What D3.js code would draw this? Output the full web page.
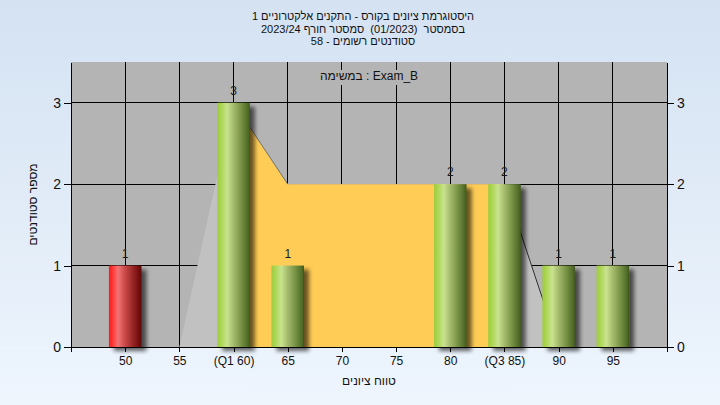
<!DOCTYPE html>
<html><head><meta charset="utf-8">
<script src="https://cdn.jsdelivr.net/npm/d3@7"></script>
<style>
html,body{margin:0;padding:0;}
body{width:720px;height:405px;overflow:hidden;}
svg{display:block;font-family:"Liberation Sans","DejaVu Sans",Arial,sans-serif;}
</style></head>
<body>
<svg id="chart" width="720" height="405"></svg>
<script>
// ---- data ----
const titleLines = [
  "היסטוגרמת ציונים בקורס - התקנים אלקטרוניים 1",
  "בסמסטר  (01/2023)  סמסטר חורף 2023/24",
  "סטודנטים רשומים - 58"
];
const subTitle = "במשימה : Exam_B";
const xTitle = "טווח ציונים";
const yTitle = "מספר סטודנטים";
const categories = [50, 55, 60, 65, 70, 75, 80, 85, 90, 95];
const tickLabels = ["50", "55", "(Q1 60)", "65", "70", "75", "80", "(Q3 85)", "90", "95"];
const counts = [1, 0, 3, 1, 0, 0, 2, 2, 1, 1];
const areaX = [55, 60, 65, 70, 75, 80, 85, 90];
const areaY = [0, 3, 2, 2, 2, 2, 2, 0];
const q1 = 60, q3 = 85;
const passMark = 55;
const xDomain = [45, 100];
const yDomain = [0, 3.5];
const yTicks = [0, 1, 2, 3];

// ---- layout ----
const svg = d3.select("#chart");
const L = 71, R = 667, T = 62, B = 347;
const x = d3.scaleLinear().domain(xDomain).range([L, R]);
const y = d3.scaleLinear().domain(yDomain).range([B, T]);
const barHalf = 1.5;

const defs = svg.append("defs");
const bgGrad = defs.append("linearGradient").attr("id", "bg").attr("x1", 0).attr("y1", 0).attr("x2", 0).attr("y2", 1);
bgGrad.append("stop").attr("offset", "0%").attr("stop-color", "#d4e2f2");
bgGrad.append("stop").attr("offset", "100%").attr("stop-color", "#eef5fd");

function cyl(id, stops) {
  const g = defs.append("linearGradient").attr("id", id).attr("x1", 0).attr("y1", 0).attr("x2", 1).attr("y2", 0);
  stops.forEach(s => g.append("stop").attr("offset", s[0]).attr("stop-color", s[1]));
}
cyl("gGreen", [["0%", "#9dcc3e"], ["12%", "#acd654"], ["30%", "#c9e38f"], ["50%", "#a4ba6c"], ["75%", "#748f42"], ["96%", "#4c6724"], ["100%", "#3a4f1a"]]);
cyl("gRed", [["0%", "#ff1a1a"], ["12%", "#ff3a3a"], ["28%", "#f27474"], ["50%", "#c84848"], ["75%", "#962424"], ["96%", "#6a0a0a"], ["100%", "#500606"]]);

const f = defs.append("filter").attr("id", "shadow").attr("x", "-30%").attr("y", "-30%").attr("width", "180%").attr("height", "160%");
f.append("feGaussianBlur").attr("in", "SourceAlpha").attr("stdDeviation", 2).attr("result", "b");
f.append("feOffset").attr("in", "b").attr("dx", 5).attr("dy", 4).attr("result", "o");
f.append("feComponentTransfer").attr("in", "o").attr("result", "o2")
  .append("feFuncA").attr("type", "linear").attr("slope", 0.6);
const fm = f.append("feMerge");
fm.append("feMergeNode").attr("in", "o2");
fm.append("feMergeNode").attr("in", "SourceGraphic");

defs.append("clipPath").attr("id", "iqr").append("rect")
  .attr("x", x(q1)).attr("y", T).attr("width", x(q3) - x(q1)).attr("height", B - T);
defs.append("clipPath").attr("id", "plotClip").append("rect")
  .attr("x", L).attr("y", T).attr("width", R - L).attr("height", B - T + 8);

svg.append("rect").attr("width", 720).attr("height", 405).attr("fill", "url(#bg)");

// title (one text element per line)
svg.append("g").selectAll("text").data(titleLines).join("text")
  .attr("x", 363).attr("y", (d, i) => 20 + i * 12.5)
  .attr("text-anchor", "middle").attr("font-size", 11).attr("fill", "#111")
  .style("white-space", "pre").text(d => d);

// plot background
svg.append("rect").attr("x", L).attr("y", T).attr("width", R - L).attr("height", B - T).attr("fill", "#b4b4b4");

// gridlines
const grid = svg.append("g").attr("stroke", "#000").attr("stroke-width", 1).attr("shape-rendering", "crispEdges");
grid.selectAll("line.v").data(categories).join("line").attr("class", "v")
  .attr("x1", d => x(d)).attr("x2", d => x(d)).attr("y1", T).attr("y2", B);
grid.selectAll("line.h").data(yTicks.filter(d => d > 0)).join("line").attr("class", "h")
  .attr("x1", L).attr("x2", R).attr("y1", d => y(d)).attr("y2", d => y(d));

// area
const areaData = areaX.map((v, i) => [v, areaY[i]]);
const area = d3.area().x(d => x(d[0])).y0(y(0)).y1(d => y(d[1]));
svg.append("path").datum(areaData).attr("d", area).attr("fill", "#c1c1c1");
svg.append("path").datum(areaData).attr("d", area).attr("fill", "#ffcc55").attr("clip-path", "url(#iqr)");
const segs = d3.pairs(areaData).filter(p => p[1][1] < p[0][1]);
svg.append("g").selectAll("line").data(segs).join("line")
  .attr("x1", d => x(d[0][0])).attr("y1", d => y(d[0][1]))
  .attr("x2", d => x(d[1][0])).attr("y2", d => y(d[1][1]))
  .attr("stroke", (d) => d[0][0] >= q3 ? "#303030" : "#707070").attr("stroke-width", 1);

// bars
const barData = categories.map((c, i) => ({c, v: counts[i]})).filter(d => d.v > 0);
svg.append("g").attr("clip-path", "url(#plotClip)").selectAll("rect").data(barData).join("rect")
  .attr("x", d => x(d.c - barHalf)).attr("width", d => x(d.c + barHalf) - x(d.c - barHalf))
  .attr("y", d => y(d.v)).attr("height", d => y(0) - y(d.v))
  .attr("fill", d => d.c < passMark ? "url(#gRed)" : "url(#gGreen)")
  .attr("filter", "url(#shadow)");

// value labels
svg.append("g").selectAll("text").data(barData).join("text")
  .attr("x", d => x(d.c)).attr("y", d => y(d.v) - 8)
  .attr("text-anchor", "middle").attr("font-size", 12).attr("fill", "#1a1a1a")
  .text(d => d.v);

// subtitle
svg.append("rect").attr("x", (L + R) / 2 - 52).attr("y", 70).attr("width", 104).attr("height", 15).attr("fill", "#b4b4b4");
svg.append("text").attr("x", (L + R) / 2).attr("y", 80)
  .attr("text-anchor", "middle").attr("font-size", 12).attr("fill", "#111").text(subTitle);

// axes
const fmtX = d => { const i = categories.indexOf(d); return i >= 0 ? tickLabels[i] : ""; };
const xTickVals = [xDomain[0]].concat(categories, [xDomain[1]]);
const gx = svg.append("g").attr("transform", `translate(0,${B})`)
  .call(d3.axisBottom(x).tickValues(xTickVals).tickFormat(fmtX).tickSize(5).tickSizeOuter(0).tickPadding(4));
gx.selectAll("text").attr("font-size", 12).attr("fill", "#111");
const gl = svg.append("g").attr("transform", `translate(${L},0)`)
  .call(d3.axisLeft(y).tickValues(yTicks).tickFormat(d3.format("d")).tickSize(7).tickSizeOuter(0).tickPadding(3));
gl.selectAll("text").attr("font-size", 14).attr("fill", "#111");
const gr = svg.append("g").attr("transform", `translate(${R},0)`)
  .call(d3.axisRight(y).tickValues(yTicks).tickFormat(d3.format("d")).tickSize(7).tickSizeOuter(0).tickPadding(3));
gr.selectAll("text").attr("font-size", 14).attr("fill", "#111");
[gx, gl, gr].forEach(g => {
  g.attr("font-family", null);
  g.selectAll("line,path").attr("stroke", "#000").attr("shape-rendering", "crispEdges");
});

// axis titles
svg.append("text").attr("x", (L + R) / 2).attr("y", 385)
  .attr("text-anchor", "middle").attr("font-size", 12).attr("fill", "#111").text(xTitle);
svg.append("text").attr("transform", `translate(37,${(T + B) / 2}) rotate(-90)`)
  .attr("text-anchor", "middle").attr("font-size", 12).attr("fill", "#111").text(yTitle);
</script>
</body></html>
